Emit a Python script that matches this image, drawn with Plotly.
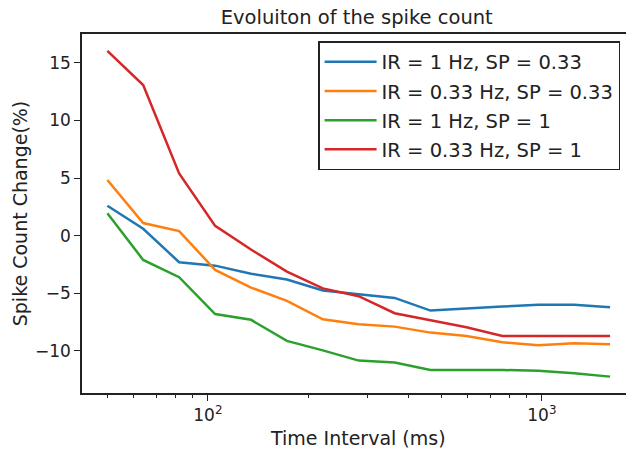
import plotly.graph_objects as go

time_ms = [50, 64.0, 82.0, 105.1, 134.6, 172.4, 220.8, 282.8, 362.3, 464.0, 594.4, 761.3, 975.2, 1249.1, 1600]

ir1_sp033 = [2.6, 0.6, -2.3, -2.6, -3.3, -3.8, -4.75, -5.1, -5.4, -6.5, -6.3, -6.15, -6.0, -6.0, -6.2]
ir033_sp033 = [4.83, 1.1, 0.4, -2.97, -4.5, -5.66, -7.25, -7.69, -7.89, -8.41, -8.7, -9.25, -9.5, -9.33, -9.42]
ir1_sp1 = [1.94, -2.1, -3.6, -6.8, -7.3, -9.13, -9.95, -10.84, -11.0, -11.65, -11.65, -11.65, -11.73, -11.94, -12.23]
ir033_sp1 = [16.04, 13.07, 5.4, 0.85, -1.2, -3.12, -4.57, -5.25, -6.73, -7.37, -7.95, -8.7, -8.7, -8.7, -8.7]

series_names = ["IR = 1 Hz, SP = 0.33", "IR = 0.33 Hz, SP = 0.33", "IR = 1 Hz, SP = 1", "IR = 0.33 Hz, SP = 1"]
series_colors = ["#1f77b4", "#ff7f0e", "#2ca02c", "#d62728"]

x_major = [100, 1000]
x_major_labels = ["10<sup>2</sup>", "10<sup>3</sup>"]
x_minor = [50, 60, 70, 80, 90, 200, 300, 400, 500, 600, 700, 800, 900]
y_ticks = [-10, -5, 0, 5, 10, 15]
y_tick_labels = ["\u221210", "\u22125", "0", "5", "10", "15"]

fig = go.Figure()
for i, (name, ys, col) in enumerate(zip(series_names, [ir1_sp033, ir033_sp033, ir1_sp1, ir033_sp1], series_colors)):
    fig.add_trace(go.Scatter(x=time_ms, y=ys, mode="lines", name=name, legendgroup=f"g{i}",
                             line=dict(color=col, width=2.5)))

font = "DejaVu Sans, Arial, sans-serif"
fig.update_layout(
    width=626, height=450,
    margin=dict(l=82, r=0, t=34, b=57),
    paper_bgcolor="white", plot_bgcolor="white",
    font=dict(family=font, size=17, color="#222"),
    title=dict(text="Evoluiton of the spike count", xref="paper", x=0.505, xanchor="center",
               y=0.962, yanchor="middle", font=dict(size=19.5, color="#222")),
    showlegend=True,
    legend=dict(x=0.434, y=0.98, xanchor="left", yanchor="top",
                bordercolor="#222", borderwidth=1.5, bgcolor="white",
                font=dict(size=19.5, color="#222"), tracegroupgap=0.8,
                itemwidth=52),
    xaxis=dict(type="log", range=[1.623, 3.2518],
               tickmode="array", tickvals=x_major, ticktext=x_major_labels,
               ticks="outside", ticklen=6, tickwidth=1.3, tickcolor="#222",
               minor=dict(tickmode="array", tickvals=x_minor, ticks="outside",
                          ticklen=3.5, tickwidth=1, tickcolor="#222", showgrid=False),
               showgrid=False, zeroline=False,
               showline=True, linecolor="#222", linewidth=1.5, mirror=True),
    yaxis=dict(range=[-13.65, 17.5],
               tickmode="array", tickvals=y_ticks, ticktext=y_tick_labels,
               ticks="outside", ticklen=6, tickwidth=1.3, tickcolor="#222",
               showgrid=False, zeroline=False,
               showline=True, linecolor="#222", linewidth=1.5, mirror=False,
               title=dict(text="Spike Count Change(%)", font=dict(size=19), standoff=2)),
    annotations=[dict(text="Time Interval (ms)", xref="paper", yref="paper",
                      x=0.508, y=-0.125, xanchor="center", yanchor="middle",
                      showarrow=False, font=dict(size=19, color="#222"))],
)

fig.write_html("out.html")
